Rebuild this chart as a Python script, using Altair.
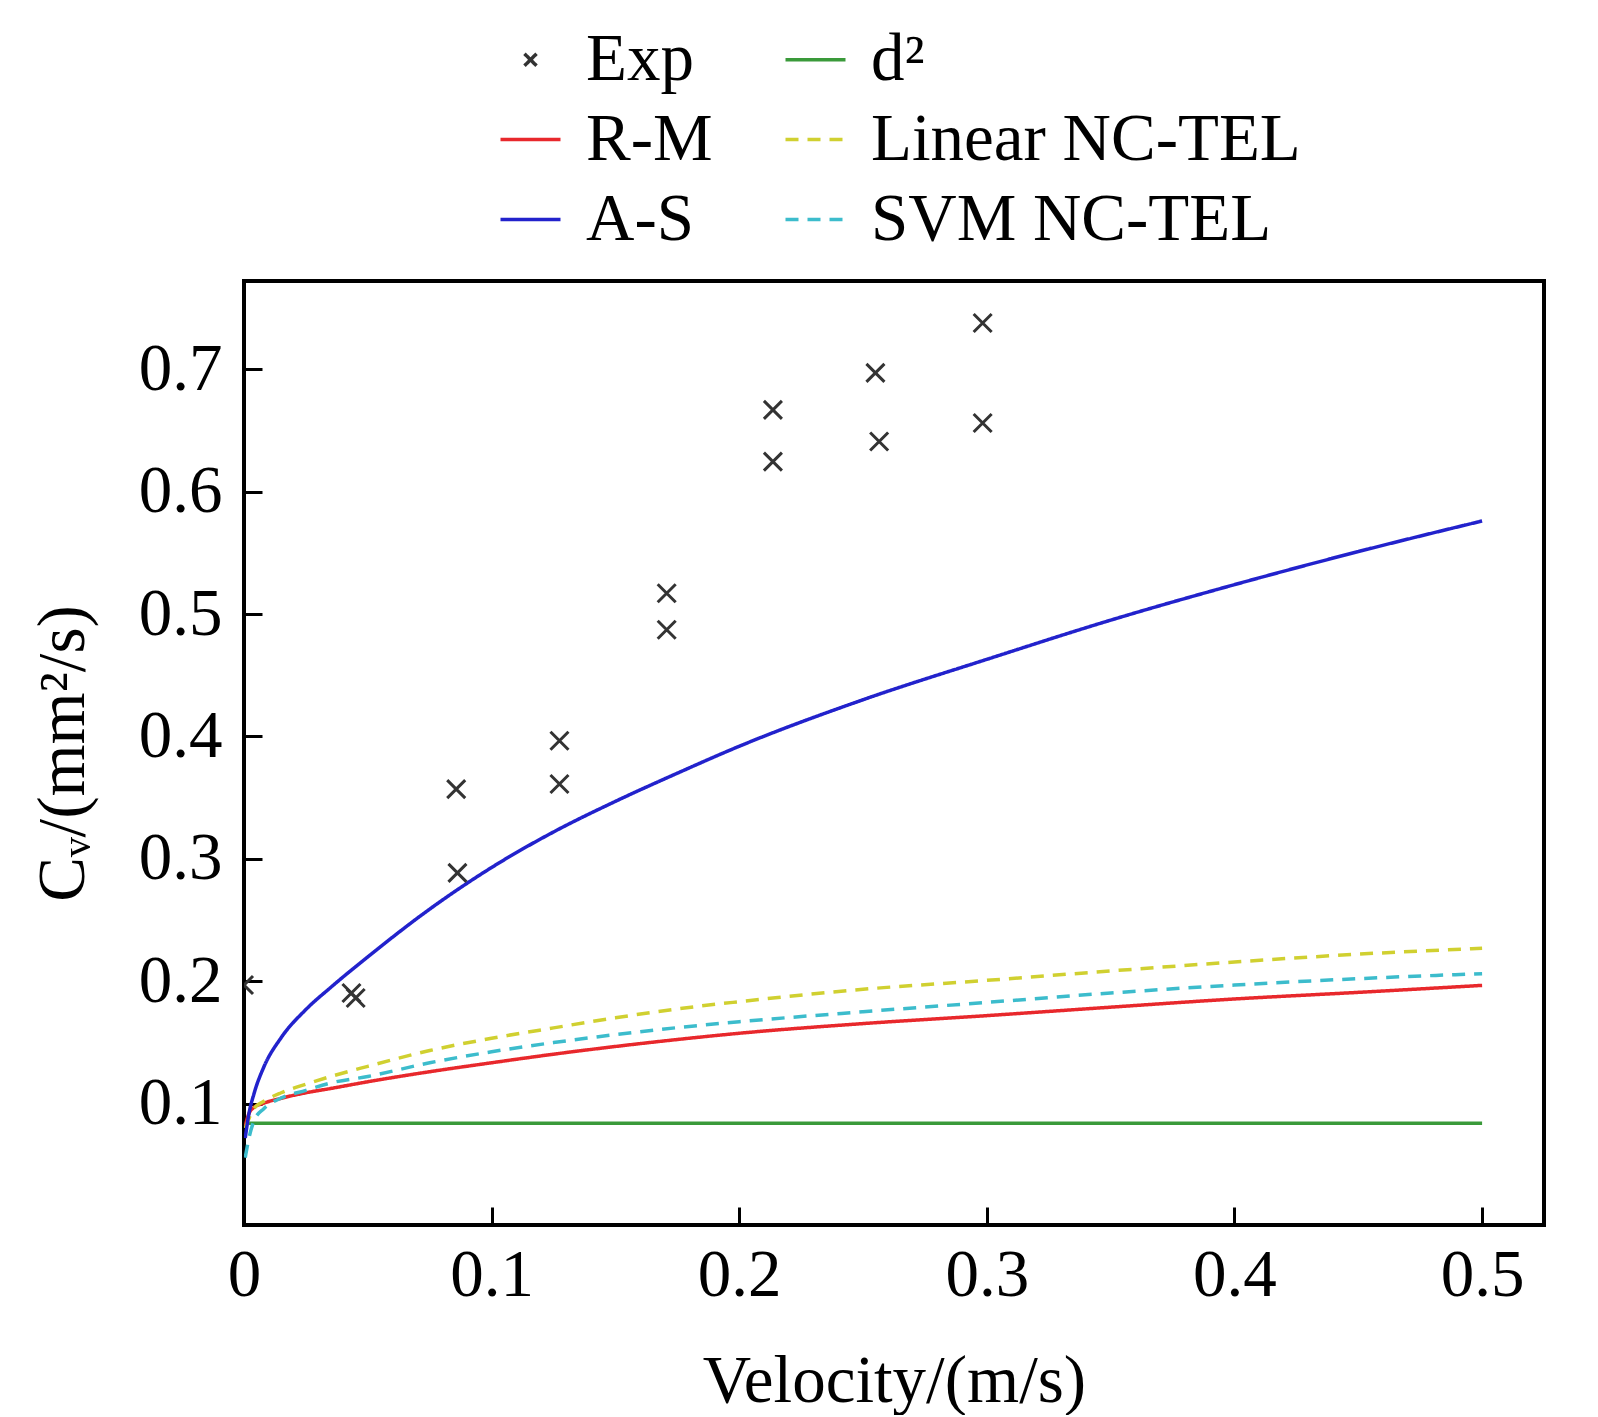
import altair as alt
import pandas as pd

# ---- data ----
EXP_X = [0.0, 0.0434, 0.0451, 0.0857, 0.0862, 0.1274, 0.1274, 0.1707, 0.1707,
         0.2136, 0.2136, 0.2550, 0.2565, 0.2983, 0.2983]
EXP_Y = [0.197, 0.1905, 0.1864, 0.357, 0.2886, 0.3965, 0.3612, 0.517, 0.4872,
         0.6667, 0.6245, 0.697, 0.6409, 0.7377, 0.656]

X_CURVE = [0.0005, 0.002, 0.004, 0.008, 0.015, 0.025, 0.035, 0.05, 0.075, 0.1,
           0.125, 0.15, 0.175, 0.2, 0.25, 0.3, 0.35, 0.4, 0.45, 0.5]
AS = [0.072, 0.092, 0.108, 0.130, 0.154, 0.177, 0.195, 0.220, 0.259, 0.293,
      0.322, 0.347, 0.370, 0.392, 0.430, 0.463, 0.495, 0.524, 0.551, 0.576]
RM = [0.082, 0.092, 0.097, 0.1005, 0.1045, 0.109, 0.1125, 0.118, 0.1262, 0.1335,
      0.1405, 0.1468, 0.1525, 0.1576, 0.1655, 0.172, 0.1789, 0.1856, 0.191, 0.1967]
LIN = [0.08, 0.088, 0.096, 0.102, 0.109, 0.116, 0.1223, 0.1306, 0.1435, 0.1535,
       0.162, 0.1702, 0.1775, 0.1834, 0.1935, 0.2008, 0.2085, 0.2158, 0.2222, 0.227]
SVM = [0.056, 0.072, 0.086, 0.096, 0.1047, 0.111, 0.117, 0.1223, 0.1335, 0.1425,
       0.150, 0.1565, 0.1622, 0.167, 0.1752, 0.1828, 0.1905, 0.197, 0.2022, 0.2063]
D2_X = [0.002, 0.5]
D2_Y = [0.0842, 0.0842]

# legend is laid out column by column: Exp, R-M, A-S | d², Linear, SVM
SERIES = ["Exp", "R-M", "A-S", "d²", "Linear NC-TEL", "SVM NC-TEL"]
COLORS = ["#333333", "#e8282c", "#2222cc", "#3a9a3a", "#d0d030", "#3cbccc"]
XPATH = "M-0.2,-0.2L0.2,0.2M-0.2,0.2L0.2,-0.2"
LPATH = "M-1,0L1,0"
SHAPES = [XPATH, LPATH, LPATH, LPATH, LPATH, LPATH]
DASHES = [[1, 0], [1, 0], [1, 0], [1, 0], [13, 9], [13, 9]]

X_TICKS = [0, 0.1, 0.2, 0.3, 0.4, 0.5]
Y_TICKS = [0.1, 0.2, 0.3, 0.4, 0.5, 0.6, 0.7]

# ---- tables ----
exp_df = pd.DataFrame({"x": EXP_X, "y": EXP_Y, "series": "Exp"})
rows = []
for name, vals in [("d²", None), ("R-M", RM), ("Linear NC-TEL", LIN),
                   ("SVM NC-TEL", SVM), ("A-S", AS)]:
    if vals is None:
        for xv, yv in zip(D2_X, D2_Y):
            rows.append({"x": xv, "y": yv, "series": name})
    else:
        for xv, yv in zip(X_CURVE, vals):
            rows.append({"x": xv, "y": yv, "series": name})
line_df = pd.DataFrame(rows)

FONT = "Liberation Serif"
FS = 67

xscale = alt.Scale(domain=[0, 0.525], nice=False, zero=False)
yscale = alt.Scale(domain=[0.001, 0.772], nice=False, zero=False)

xaxis = alt.Axis(values=X_TICKS, title="Velocity/(m/s)",
                 labelExpr="datum.value == 0 ? '0' : format(datum.value, '.1f')",
                 grid=False, domain=False, offset=-18, tickSize=18, tickWidth=3,
                 tickColor="black", labelPadding=17, titlePadding=40,
                 labelFont=FONT, labelFontSize=FS, titleFont=FONT,
                 titleFontSize=FS, titleFontWeight="normal", labelColor="black",
                 titleColor="black", labelFlush=False)
yaxis = alt.Axis(values=Y_TICKS, title="Cᵥ/(mm²/s)", format=".1f",
                 grid=False, domain=False, offset=-18, tickSize=18, tickWidth=3,
                 tickColor="black", labelPadding=22, titlePadding=41,
                 labelFont=FONT, labelFontSize=FS, titleFont=FONT,
                 titleFontSize=FS, titleFontWeight="normal", labelColor="black",
                 titleColor="black", labelFlush=False)

legend = alt.Legend(title=None, orient="none", legendX=253, legendY=-255,
                    columns=2, columnPadding=65, rowPadding=12,
                    symbolSize=3600, symbolStrokeWidth=3.5, labelOffset=22,
                    labelFont=FONT, labelFontSize=FS, labelColor="black",
                    labelLimit=0)

color = alt.Color("series:N", scale=alt.Scale(domain=SERIES, range=COLORS),
                  legend=legend)
shape = alt.Shape("series:N", scale=alt.Scale(domain=SERIES, range=SHAPES),
                  legend=legend)
dash = alt.StrokeDash("series:N", scale=alt.Scale(domain=SERIES, range=DASHES),
                      legend=legend)

lines = alt.Chart(line_df).mark_line(strokeWidth=3.5, clip=True,
                                     interpolate="monotone").encode(
    x=alt.X("x:Q", scale=xscale, axis=xaxis),
    y=alt.Y("y:Q", scale=yscale, axis=yaxis),
    color=color,
    strokeDash=dash,
    detail="series:N",
)

points = alt.Chart(exp_df).mark_point(filled=False, strokeWidth=3, size=8100,
                                      clip=True, opacity=1).encode(
    x=alt.X("x:Q", scale=xscale),
    y=alt.Y("y:Q", scale=yscale),
    color=color,
    shape=shape,
)

chart = alt.layer(lines, points).properties(
    width=1300, height=944,
    autosize=alt.AutoSizeParams(type="none"),
    padding={"left": 236, "top": 273, "right": 40, "bottom": 190},
    background="white",
).configure_view(stroke="black", strokeWidth=4)

chart.save("out.html", embed_options={"renderer": "svg", "actions": False})
